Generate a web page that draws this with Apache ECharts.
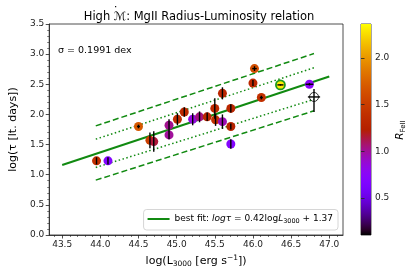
<!DOCTYPE html>
<html><head><meta charset="utf-8">
<script src="https://cdn.jsdelivr.net/npm/echarts@6/dist/echarts.min.js"></script>
<style>html,body{margin:0;padding:0;background:#fff}#c{width:416px;height:275px}</style>
</head><body><div id="c"></div>
<script>
// ---- data ----
const logL   = [43.95,44.10,44.50,44.65,44.70,44.90,44.90,45.01,45.10,45.21,45.30,45.40,45.50,45.51,45.60,45.60,45.71,45.71,45.71,46.02,46.00,46.11,46.36,46.74];
const logTau = [1.23,1.23,1.80,1.57,1.55,1.82,1.66,1.92,2.04,1.92,1.96,1.96,2.10,1.91,1.88,2.35,2.10,1.80,1.51,2.76,2.52,2.28,2.49,2.50];
const rFeII  = [1.40,0.70,1.70,1.52,1.15,1.02,1.00,1.38,1.32,0.85,1.05,1.32,1.35,1.42,0.95,1.30,1.30,1.28,0.70,1.62,1.32,1.40,2.30,0.75];
const errY   = [0.06,0.06,0.03,0.13,0.17,0.10,0.07,0.10,0.08,0.10,0.09,0.07,0.17,0.10,0.12,0.10,0.07,0.05,0.08,0.04,0.05,0.03,0.01,0.02];
const errX   = [0,0,0.02,0,0,0,0,0,0,0,0,0,0,0,0,0,0,0,0,0.03,0,0.02,0.04,0.05];
const openPt = [46.80, 2.29];           // open (unfilled) point
const openErr = {x: 0.08, lo: 0.25, hi: 0.13};
const highlighted = 22;                  // index of point with green edge
const fitSlope = 0.42, fitIntercept = 1.37, fitPivot = 44.0, fitRange = [43.5, 47.0];
const bandX = [43.94, 46.80];
const upperDashed = [1.81, 3.01];
const upperDotted = [1.59, 2.775];
const lowerDotted = [1.12, 2.25];
const lowerDashed = [0.91, 2.06];
const xTicks = [43.5,44.0,44.5,45.0,45.5,46.0,46.5,47.0];
const xMinor = [];
for (let v = 434; v <= 471; v++) { if (v % 5) xMinor.push(v / 10); }
const cbTicks = [0.5,1.0,1.5,2.0];
const cbRange = [0.104, 2.364];
const sigmaText = 'σ = 0.1991 dex';
const titleText = 'High ℳ: MgII Radius-Luminosity relation';

// gnuplot colormap
function gnuplot(t){
  const r = Math.sqrt(t), g = t*t*t, b = Math.max(0, Math.sin(2*Math.PI*t));
  const h = v => Math.round(Math.min(1,Math.max(0,v))*255);
  return 'rgb(' + h(r) + ',' + h(g) + ',' + h(b) + ')';
}
const cmap = []; for (let i = 0; i <= 40; i++) cmap.push(gnuplot(i/40));

const chart = echarts.init(document.getElementById('c'), null, {renderer:'canvas'});
const F = 'DejaVu Sans';
const G = {left:45, right:73, top:24, bottom:40};
const CB = {left:361, width:10, top:24, bottom:40};
const TITLE_SIZE = 11.5, TITLE_CX = 194, TITLE_TOP = 6;

// position of the dot over the script M (text metrics)
const mctx = document.createElement('canvas').getContext('2d');
mctx.font = TITLE_SIZE + 'px "' + F + '"';
const fullW = mctx.measureText(titleText).width;
const preW = mctx.measureText('High ').width;
const mW = mctx.measureText('ℳ').width;
const dotX = TITLE_CX - fullW/2 + preW + mW*0.55;

const ptData = logL.map((x,i) => {
  const d = {value:[x, logTau[i], rFeII[i]]};
  if (i === highlighted) d.itemStyle = {borderColor:'#1a9a1a', borderWidth:1.8};
  return d;
});
const errData = logL.map((x,i) => [x, logTau[i], errX[i], errY[i], errY[i]]);
errData.push([openPt[0], openPt[1], openErr.x, openErr.lo, openErr.hi]);

function fitY(x){ return fitSlope*(x - fitPivot) + fitIntercept; }

const gradStops = cmap.map((c,i) => ({offset: 1 - i/40, color: c}));

chart.setOption({
  animation:false,
  backgroundColor:'#fff',
  title:{text:titleText, left:TITLE_CX, top:TITLE_TOP, textAlign:'center',
         textStyle:{fontFamily:F, fontSize:TITLE_SIZE, fontWeight:'normal', color:'#000'}},
  grid:[
    {left:G.left, right:G.right, top:G.top, bottom:G.bottom, show:true, borderColor:'#222', borderWidth:0.8, backgroundColor:'transparent'},
    {left:CB.left, width:CB.width, top:CB.top, bottom:CB.bottom, show:true, borderColor:'#222', borderWidth:0.8}
  ],
  xAxis:[
    {gridIndex:0, type:'value', min:43.33, max:47.18,
     name:'log(L{sub|3000} [erg s{sup|−1}])', nameLocation:'middle', nameGap:19,
     nameTextStyle:{fontFamily:F, fontSize:11, color:'#000',
       rich:{sub:{fontFamily:F, fontSize:7.5, verticalAlign:'bottom', padding:[6,0,0,0], color:'#000'},
             sup:{fontFamily:F, fontSize:7.5, verticalAlign:'top', padding:[0,0,6,0], color:'#000'}}},
     axisLine:{show:true, lineStyle:{color:'#222', width:0.8}},
     axisTick:{show:true, length:3.5, lineStyle:{color:'#222', width:0.8}, customValues:xTicks},
     axisLabel:{fontFamily:F, fontSize:9, color:'#222', margin:5, customValues:xTicks, formatter:v=>v.toFixed(1)},
     splitLine:{show:false}},
    {gridIndex:0, type:'value', min:43.33, max:47.18, position:'bottom',
     axisLine:{show:false},
     axisTick:{show:true, length:2, lineStyle:{color:'#222', width:0.6}, customValues:xMinor},
     axisLabel:{show:false}, splitLine:{show:false}},
    {gridIndex:1, type:'value', min:0, max:1, show:false}
  ],
  yAxis:[
    {gridIndex:0, type:'value', min:0, max:3.5, interval:0.5,
     name:'log(τ [lt. days])', nameLocation:'middle', nameGap:26,
     nameTextStyle:{fontFamily:F, fontSize:11, color:'#000'},
     axisLine:{show:true, lineStyle:{color:'#222', width:0.8}},
     axisTick:{show:true, length:3.5, lineStyle:{color:'#222', width:0.8}},
     minorTick:{show:true, splitNumber:5, length:2, lineStyle:{color:'#222', width:0.6}},
     axisLabel:{fontFamily:F, fontSize:9, color:'#222', margin:5, formatter:v=>v.toFixed(1)},
     splitLine:{show:false}},
    {gridIndex:1, type:'value', min:cbRange[0], max:cbRange[1], position:'right',
     axisLine:{show:false},
     axisTick:{show:true, length:3.5, lineStyle:{color:'#222', width:0.8}, customValues:cbTicks},
     axisLabel:{fontFamily:F, fontSize:9, color:'#222', margin:4, customValues:cbTicks, formatter:v=>v.toFixed(1)},
     splitLine:{show:false}}
  ],
  visualMap:{type:'continuous', show:false, dimension:2, min:cbRange[0], max:cbRange[1],
             seriesIndex:5, inRange:{color:cmap}},
  legend:{data:[{name:'best fit', icon:'rect'}], right:78, bottom:45, itemWidth:22, itemHeight:2, itemGap:0,
          backgroundColor:'rgba(255,255,255,0.9)', borderColor:'#ccc', borderWidth:0.8, borderRadius:3,
          padding:[5,5,5,4],
          formatter:()=>'best fit: {it|logτ} = 0.42log{it|L}{sub|3000} + 1.37',
          textStyle:{fontFamily:F, fontSize:9, color:'#000',
            rich:{it:{fontFamily:F, fontSize:9, fontStyle:'italic', color:'#000'},
                  sub:{fontFamily:F, fontSize:6.5, verticalAlign:'bottom', padding:[5,0,0,0], color:'#000'}}}},
  graphic:[
    {type:'rect', shape:{x:CB.left, y:CB.top, width:CB.width, height:275-CB.top-CB.bottom},
     style:{fill:new echarts.graphic.LinearGradient(0,0,0,1,gradStops)}, z:0},
    {type:'text', x:dotX, y:TITLE_TOP + 0.5, style:{text:'˙', fontFamily:F, fontSize:TITLE_SIZE, fill:'#000', align:'center', verticalAlign:'top'}, z:10},
    {type:'text', x:58, y:51, style:{text:sigmaText, fontFamily:F, fontSize:9.5, fill:'#000', verticalAlign:'middle'}, z:10},
    {type:'text', x:400, y:130, rotation:Math.PI/2,
     style:{text:'{it|R}{sub|FeII}', align:'center', verticalAlign:'middle', fill:'#000',
       rich:{it:{fontFamily:F, fontSize:10.5, fontStyle:'italic', fill:'#000'},
             sub:{fontFamily:F, fontSize:7, verticalAlign:'bottom', padding:[6,0,0,0], fill:'#000'}}}, z:10}
  ],
  series:[
    {name:'best fit', type:'line', xAxisIndex:0, yAxisIndex:0, symbol:'none', silent:true,
     data:[[fitRange[0], fitY(fitRange[0])],[fitRange[1], fitY(fitRange[1])]],
     lineStyle:{color:'#118a11', width:2}, itemStyle:{color:'#118a11'}, z:3},
    {type:'line', xAxisIndex:0, yAxisIndex:0, symbol:'none', silent:true,
     data:[[bandX[0], upperDashed[0]],[bandX[1], upperDashed[1]]],
     lineStyle:{color:'#118a11', width:1.5, type:[6,3]}, z:3},
    {type:'line', xAxisIndex:0, yAxisIndex:0, symbol:'none', silent:true,
     data:[[bandX[0], upperDotted[0]],[bandX[1], upperDotted[1]]],
     lineStyle:{color:'#118a11', width:1.5, type:[1.5,2.5]}, z:3},
    {type:'line', xAxisIndex:0, yAxisIndex:0, symbol:'none', silent:true,
     data:[[bandX[0], lowerDotted[0]],[bandX[1], lowerDotted[1]]],
     lineStyle:{color:'#118a11', width:1.5, type:[1.5,2.5]}, z:3},
    {type:'line', xAxisIndex:0, yAxisIndex:0, symbol:'none', silent:true,
     data:[[bandX[0], lowerDashed[0]],[bandX[1], lowerDashed[1]]],
     lineStyle:{color:'#118a11', width:1.5, type:[6,3]}, z:3},
    {type:'scatter', xAxisIndex:0, yAxisIndex:0, symbolSize:9, data:ptData, z:4,
     itemStyle:{opacity:1}},
    {type:'scatter', xAxisIndex:0, yAxisIndex:0, symbolSize:9, data:[openPt], z:4,
     itemStyle:{color:'rgba(0,0,0,0)', borderColor:'#000', borderWidth:1}},
    {type:'custom', xAxisIndex:0, yAxisIndex:0, data:errData, z:6, silent:true,
     renderItem:function(params, api){
       const x = api.value(0), y = api.value(1), ex = api.value(2), lo = api.value(3), hi = api.value(4);
       const ch = [];
       if (lo > 0 || hi > 0) {
         const a = api.coord([x, y - lo]), b = api.coord([x, y + hi]);
         ch.push({type:'line', shape:{x1:a[0], y1:a[1], x2:b[0], y2:b[1]}, style:{stroke:'#000', lineWidth:1.4}});
       }
       if (ex > 0) {
         const a = api.coord([x - ex, y]), b = api.coord([x + ex, y]);
         ch.push({type:'line', shape:{x1:a[0], y1:a[1], x2:b[0], y2:b[1]}, style:{stroke:'#000', lineWidth:1.4}});
       }
       return {type:'group', children:ch};
     }}
  ]
});
</script></body></html>
